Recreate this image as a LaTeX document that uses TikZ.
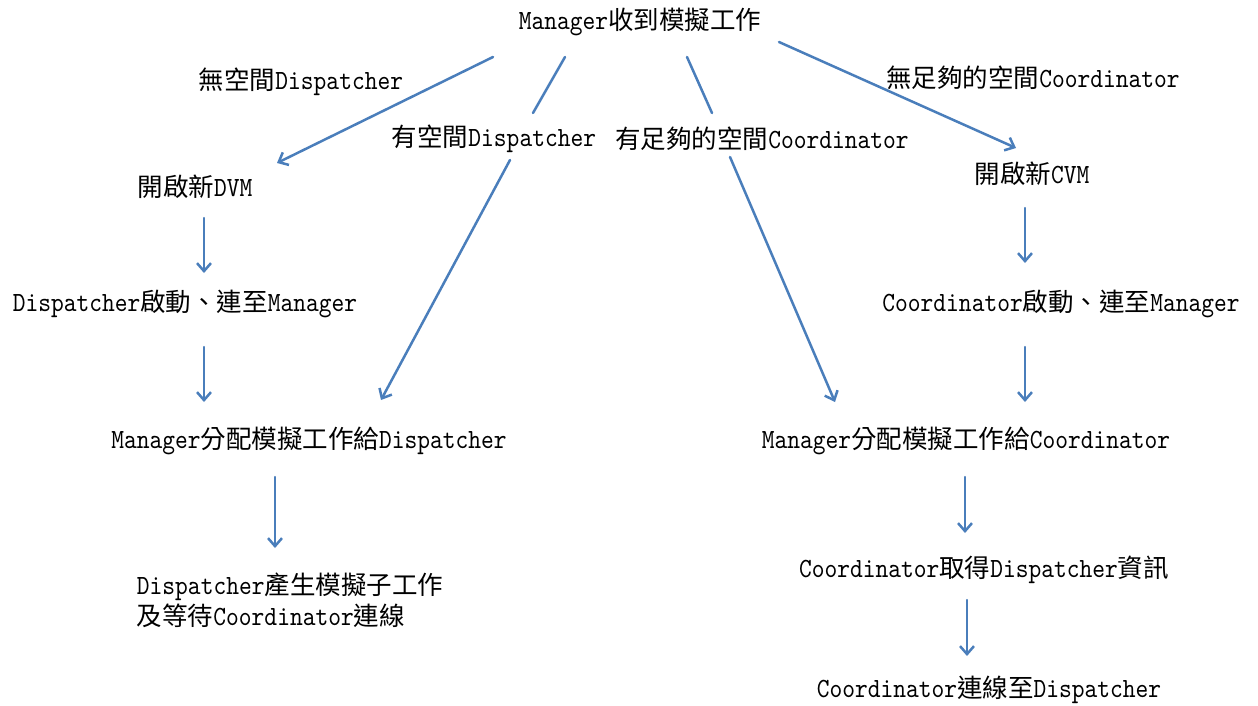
\documentclass[tikz,border=0pt]{standalone}
\usepackage{fontspec}
\usetikzlibrary{arrows.meta}
% Latin text in a narrow monospaced serif, CJK text in Noto Sans CJK TC
\setmainfont{lmmono10-regular.otf}[Scale=1.09,FakeStretch=0.874]
\newfontfamily\cjkfont{Noto Sans CJK TC}
\newcommand\zh[1]{{\cjkfont #1}}
\definecolor{arrowblue}{RGB}{74,126,187}

\begin{document}
\begin{tikzpicture}[x=1pt,y=-1pt,
  lbl/.style={inner sep=0pt, font=\fontsize{25.5}{31}\selectfont},
  seg/.style={draw=arrowblue, line width=2.5pt, line cap=round},
  arr/.style={seg, -{Straight Barb[length=8pt,width=14pt,line width=2.5pt]}}]
\useasboundingbox (0,0) rectangle (1258,705);

% steps and branch labels
\node[lbl] (top)     at (640,22)  {Manager\zh{收到模擬工作}};
\node[lbl] (lblNoD)  at (301,82)  {\zh{無空間}Dispatcher};
\node[lbl] (lblHasD) at (494,139) {\zh{有空間}Dispatcher};
\node[lbl] (lblHasC) at (762,139) {\zh{有足夠的空間}Coordinator};
\node[lbl] (lblNoC)  at (1033,78) {\zh{無足夠的空間}Coordinator};
\node[lbl] (dvm)     at (195,187) {\zh{開啟新}DVM};
\node[lbl] (cvm)     at (1032,174) {\zh{開啟新}CVM};
\node[lbl] (dstart)  at (185,304) {Dispatcher\zh{啟動、連至}Manager};
\node[lbl] (cstart)  at (1061,304) {Coordinator\zh{啟動、連至}Manager};
\node[lbl] (dassign) at (309,441) {Manager\zh{分配模擬工作給}Dispatcher};
\node[lbl] (cassign) at (966,441) {Manager\zh{分配模擬工作給}Coordinator};
\node[lbl, align=left] (dgen) at (290,600)
  {Dispatcher\zh{產生模擬子工作}\\\zh{及等待}Coordinator\zh{連線}};
\node[lbl] (cinfo)   at (984,570) {Coordinator\zh{取得}Dispatcher\zh{資訊}};
\node[lbl] (cconn)   at (989,690) {Coordinator\zh{連線至}Dispatcher};

% branches out of the first step
\draw[arr] ([shift={(-147,35)}]top.center) -- ([shift={(82,-24)}]dvm.center);
\draw[seg] ([shift={(-75,35)}]top.center) -- ([shift={(39,-26)}]lblHasD.center);
\draw[arr] ([shift={(16,21)}]lblHasD.center) -- ([shift={(72,-41)}]dassign.center);
\draw[seg] ([shift={(47,35)}]top.center) -- ([shift={(-50,-26)}]lblHasC.center);
\draw[arr] ([shift={(-32,18)}]lblHasC.center) -- ([shift={(-131,-39)}]cassign.center);
\draw[arr] ([shift={(139,20)}]top.center) -- ([shift={(-16,-26)}]cvm.center);

% Dispatcher side
\draw[arr] ([shift={(9,31)}]dvm.center) -- ([shift={(19,-31)}]dstart.center);
\draw[arr] ([shift={(19,43)}]dstart.center) -- ([shift={(-105,-39)}]dassign.center);
\draw[arr] ([shift={(-34,36)}]dassign.center) -- ([shift={(-15,-52)}]dgen.center);

% Coordinator side
\draw[arr] ([shift={(-7,34)}]cvm.center) -- ([shift={(-36,-41)}]cstart.center);
\draw[arr] ([shift={(-36,43)}]cstart.center) -- ([shift={(59,-39)}]cassign.center);
\draw[arr] ([shift={(-1,36)}]cassign.center) -- ([shift={(-19,-37)}]cinfo.center);
\draw[arr] ([shift={(-17,30)}]cinfo.center) -- ([shift={(-22,-34)}]cconn.center);
\end{tikzpicture}
\end{document}
